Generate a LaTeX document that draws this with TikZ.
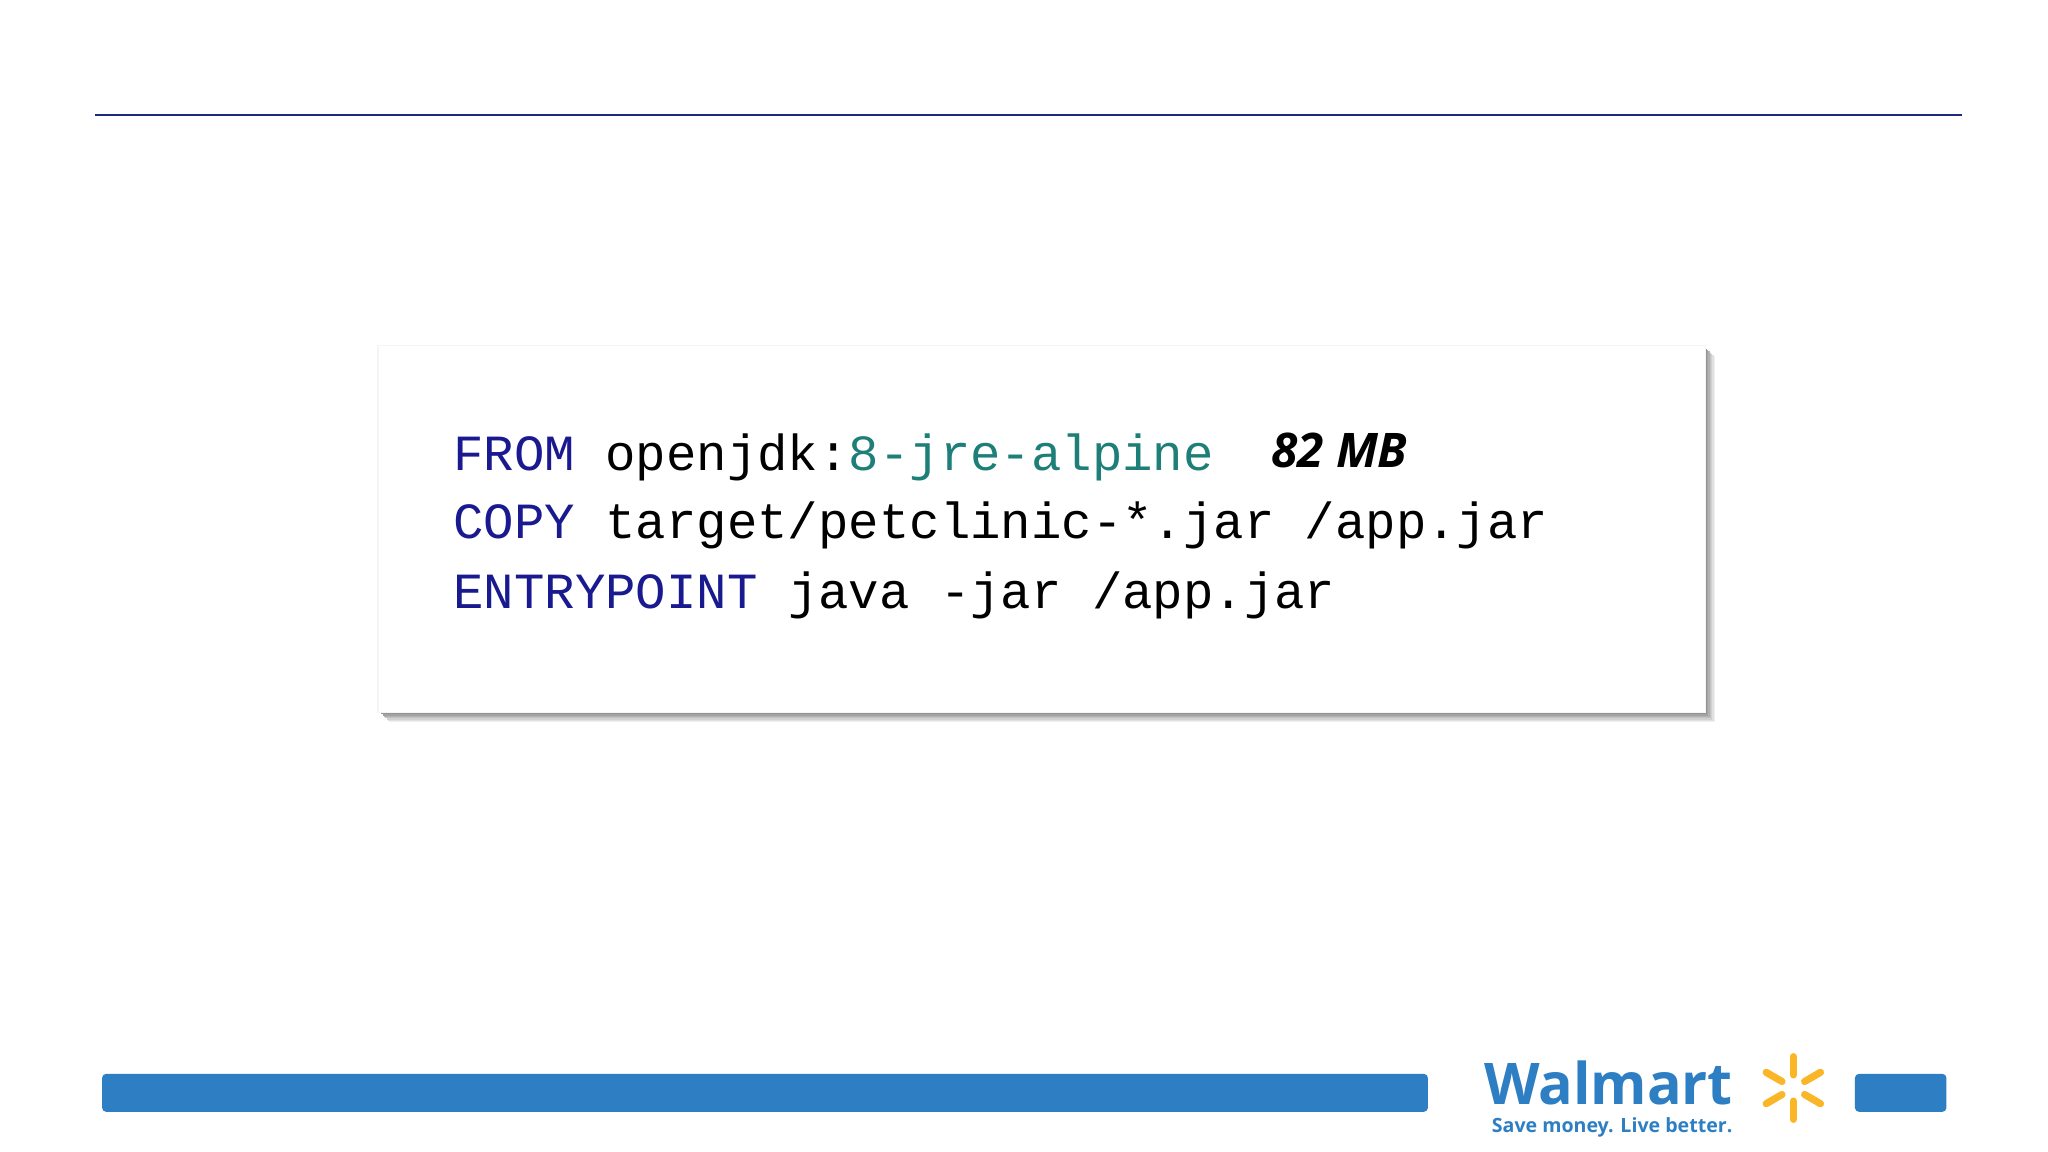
\documentclass[tikz,border=0pt]{standalone}
\usepackage{fontspec}
\setmainfont{Open Sans}
\setmonofont{Liberation Mono}
\definecolor{navy}{HTML}{1C2A78}
\definecolor{kw}{HTML}{1A1A90}
\definecolor{teal}{HTML}{1E7F78}
\definecolor{wblue}{HTML}{2E7EC4}
\definecolor{wyel}{HTML}{FBB627}
\begin{document}
\begin{tikzpicture}[x=1pt,y=-1pt,
  code/.style={anchor=base west,inner sep=0pt,font=\fontsize{38.8}{40}\selectfont\ttfamily},
  bar/.style={fill=wblue,draw=none,rounded corners=3pt}]
\useasboundingbox (0,0) rectangle (1568,882);
\fill[white] (0,0) rectangle (1568,882);
\draw[navy,line width=1.6pt] (73,88) -- (1502,88);
% code box with soft shadow
\foreach \i/\c in {8/6,7/12,6/18,5/24,4/30,3/36,2/42,1/48}
  \fill[black!\c] (290+\i,265+\i) rectangle (1305+\i,545+\i);
\fill[black!4] (289,264) rectangle (1306,546);
\node[draw=none,fill=white,minimum width=1015pt,minimum height=280pt,anchor=north west,inner sep=0pt] (box) at (290,265) {};
\node[code] (l1) at (347,360) {\textcolor{kw}{FROM} openjdk:\textcolor{teal}{8-jre-alpine}};
\node[code] (l2) at (347,412) {\textcolor{kw}{COPY} target/petclinic-*.jar /app.jar};
\node[code] (l3) at (347,466) {\textcolor{kw}{ENTRYPOINT} java -jar /app.jar};
\node[anchor=base west,inner sep=0pt,font=\fontsize{36.5}{40}\selectfont\bfseries\itshape] (mb) at (973,358) {82 MB};
% footer
\node[bar,minimum width=1015pt,minimum height=29pt,anchor=north west,inner sep=0pt] (fbar) at (78,822) {};
\node[bar,minimum width=70pt,minimum height=29pt,anchor=north west,inner sep=0pt] (sbar) at (1420,822) {};
\node[anchor=base west,inner sep=0pt,text=wblue,font=\fontsize{44}{46}\selectfont\bfseries] (wm) at (1136,846) {Walmart};
\node[anchor=base west,inner sep=0pt,text=wblue,font=\fontsize{15}{16}\selectfont\bfseries] (tag) at (1142,867) {Save money. Live better.};
\foreach \a in {90,150,210,270,330,30}
  \draw[wyel,line width=5.5pt,line cap=round] (1373,833) ++(\a:10) -- ++(\a:14);
\end{tikzpicture}
\end{document}
